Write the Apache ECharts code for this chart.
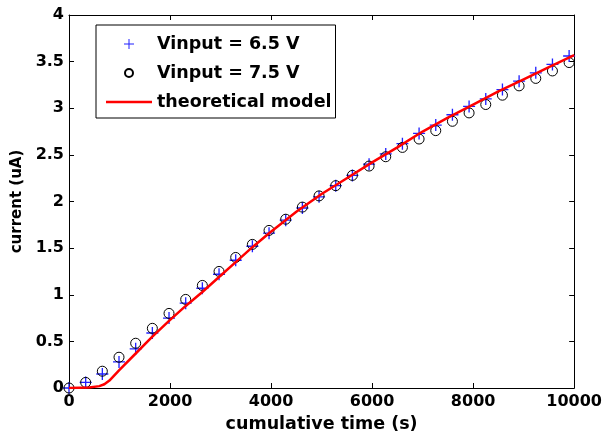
<!DOCTYPE html>
<html>
<head>
<meta charset="utf-8">
<script src="https://cdn.jsdelivr.net/npm/echarts@6/dist/echarts.min.js"></script>
<style>
  html, body { margin: 0; padding: 0; background: #fff; }
  #chart { width: 605px; height: 439px; }
</style>
</head>
<body>
<div id="chart"></div>
<script>
// measurement times (s)
const times = [0, 330, 660, 990, 1320, 1650, 1980, 2310, 2640, 2970, 3300, 3630, 3960, 4290, 4620,
  4950, 5280, 5610, 5940, 6270, 6600, 6930, 7260, 7590, 7920, 8250, 8580, 8910, 9240, 9570, 9900];
// current (uA) at Vinput = 6.5 V
const current65 = [0, 0.06, 0.15, 0.28, 0.42, 0.59, 0.75, 0.91, 1.07, 1.22, 1.37, 1.52, 1.66, 1.80, 1.93,
  2.05, 2.17, 2.28, 2.40, 2.51, 2.62, 2.73, 2.82, 2.93, 3.02, 3.10, 3.20, 3.29, 3.38, 3.47, 3.56];
// current (uA) at Vinput = 7.5 V
const current75 = [0, 0.06, 0.18, 0.33, 0.48, 0.64, 0.80, 0.95, 1.10, 1.25, 1.40, 1.54, 1.69, 1.81, 1.94,
  2.06, 2.17, 2.28, 2.38, 2.48, 2.58, 2.67, 2.76, 2.86, 2.95, 3.04, 3.14, 3.24, 3.32, 3.40, 3.49];
// theoretical model
const modelTimes = [0, 400, 600, 700, 800, 990, 1320, 1650, 1980, 2310, 2640, 2970, 3300, 3630, 3960,
  4500, 5000, 5500, 6000, 6500, 7000, 7500, 8000, 8500, 9000, 9500, 10000];
const modelCurrent = [0, 0.005, 0.02, 0.04, 0.08, 0.19, 0.37, 0.55, 0.72, 0.88, 1.03, 1.19, 1.35, 1.51, 1.66,
  1.89, 2.08, 2.25, 2.42, 2.58, 2.75, 2.90, 3.04, 3.18, 3.31, 3.44, 3.57];

const seriesNames = ['Vinput = 6.5 V', 'Vinput = 7.5 V', 'theoretical model'];

const zip = (xs, ys) => xs.map((x, i) => [x, ys[i]]);

const font = 'DejaVu Sans';
const plusPath = 'path://M4.45,0h1.1v10h-1.1z M0,4.45h10v1.1h-10z';
// legend icons carry an empty margin so they draw smaller than the item height
const plusLegend = 'path://M0,0 M16,16 M7.5,3h1v10h-1z M3,7.5h10v1h-10z';
const circleLegend = 'path://M0,0 M16,16 M12,8A4,4 0 1,1 4,8A4,4 0 1,1 12,8z';
const lineLegend = 'path://M0,0h46v2.5h-46z';

const chart = echarts.init(document.getElementById('chart'));

const axisCommon = {
  axisLine: { show: true, onZero: false, lineStyle: { color: '#000', width: 1 } },
  axisTick: { show: true, inside: true, length: 5, lineStyle: { color: '#000' } },
  splitLine: { show: false }
};

chart.setOption({
  animation: false,
  backgroundColor: '#fff',
  grid: { left: 69, right: 30, top: 15, bottom: 51 },
  legend: {
    orient: 'vertical',
    left: 96,
    top: 25,
    padding: [10, 4, 7, 10],
    itemWidth: 46,
    itemHeight: 16,
    itemGap: 11,
    backgroundColor: '#fff',
    borderColor: '#000',
    borderWidth: 1,
    borderRadius: 0,
    textStyle: { fontFamily: font, fontWeight: 'bold', fontSize: 17.5, color: '#000', lineHeight: 16 },
    data: [
      { name: seriesNames[0], icon: plusLegend },
      { name: seriesNames[1], icon: circleLegend },
      { name: seriesNames[2], icon: lineLegend }
    ]
  },
  xAxis: [
    Object.assign({}, axisCommon, {
      type: 'value', min: 0, max: 10000, interval: 2000, position: 'bottom',
      name: 'cumulative time (s)', nameLocation: 'middle', nameGap: 27,
      nameTextStyle: { fontFamily: font, fontWeight: 'bold', fontSize: 17.5, color: '#000' },
      axisLabel: {
        fontFamily: font, fontWeight: 'bold', fontSize: 16, color: '#000', margin: 6,
        formatter: v => String(v)
      }
    }),
    Object.assign({}, axisCommon, {
      type: 'value', min: 0, max: 10000, interval: 2000, position: 'top',
      axisLabel: { show: false }
    })
  ],
  yAxis: [
    Object.assign({}, axisCommon, {
      type: 'value', min: 0, max: 4, interval: 0.5, position: 'left',
      name: 'current (uA)', nameLocation: 'middle', nameGap: 44,
      nameTextStyle: { fontFamily: font, fontWeight: 'bold', fontSize: 15, color: '#000' },
      axisLabel: { fontFamily: font, fontWeight: 'bold', fontSize: 16, color: '#000', margin: 5 }
    }),
    Object.assign({}, axisCommon, {
      type: 'value', min: 0, max: 4, interval: 0.5, position: 'right',
      axisLabel: { show: false }
    })
  ],
  series: [
    {
      name: seriesNames[0],
      type: 'scatter',
      symbol: plusPath,
      symbolSize: 12,
      itemStyle: { color: '#2020ff', opacity: 1 },
      data: zip(times, current65),
      z: 2
    },
    {
      name: seriesNames[1],
      type: 'scatter',
      symbol: 'circle',
      symbolSize: 10,
      itemStyle: { color: 'rgba(0,0,0,0)', borderColor: '#000', borderWidth: 1, opacity: 1 },
      data: zip(times, current75),
      z: 3
    },
    {
      name: seriesNames[2],
      type: 'line',
      showSymbol: false,
      symbol: 'none',
      lineStyle: { color: '#ff0000', width: 2.5 },
      itemStyle: { color: '#ff0000' },
      data: zip(modelTimes, modelCurrent),
      z: 4
    }
  ]
});
</script>
</body>
</html>
